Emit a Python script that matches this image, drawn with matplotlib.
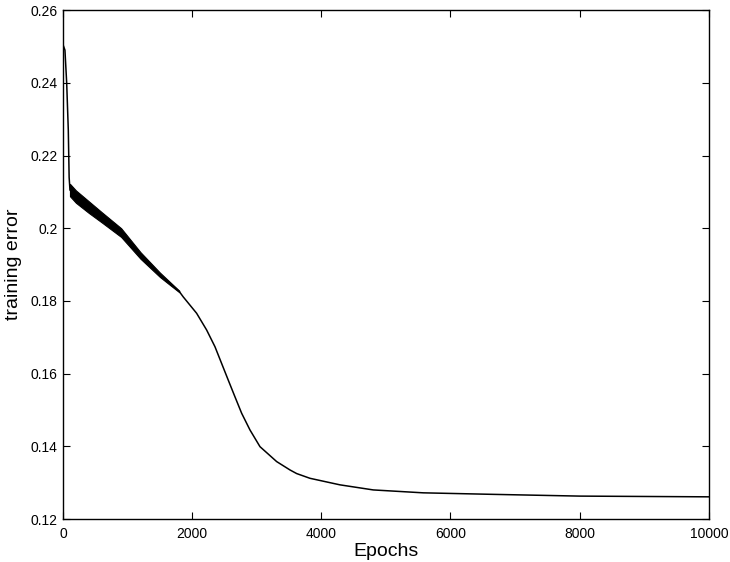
import matplotlib
matplotlib.use("Agg")
import matplotlib.pyplot as plt
import numpy as np

plt.rcParams['font.family'] = ['Liberation Sans', 'DejaVu Sans']

# early drop
drop_epochs = [0, 30, 57, 82, 95, 108]
drop_error = [0.2505, 0.2490, 0.2400, 0.2270, 0.2140, 0.2105]

# oscillating band: centre and half-width
band_epochs = [108, 200, 400, 600, 900, 1200, 1500, 1656, 1800]
band_centre = [0.2105, 0.2087, 0.2058, 0.2030, 0.1988, 0.1925, 0.1872, 0.1848, 0.1826]
band_half = [0.0017, 0.0017, 0.0016, 0.0014, 0.0012, 0.0009, 0.0006, 0.0004, 0.0002]

# smooth tail
tail_epochs = [1862, 2069, 2224, 2353, 2456, 2559, 2663, 2766, 2895, 3050, 3308,
               3514, 3618, 3824, 4133, 4288, 4804, 5578, 6610, 8003, 10000]
tail_error = [0.1811, 0.1766, 0.1720, 0.1674, 0.1628, 0.1582, 0.1536, 0.1491,
              0.1445, 0.1399, 0.1358, 0.1335, 0.1325, 0.1312, 0.1300, 0.1294,
              0.1280, 0.1272, 0.1268, 0.1263, 0.1261]

fig = plt.figure(figsize=(7.30, 5.62), dpi=100)
ax = fig.add_axes([0.0863, 0.0765, 0.8847, 0.9055])

band_centre = np.array(band_centre)
band_half = np.array(band_half)
ax.fill_between(band_epochs, band_centre - band_half, band_centre + band_half,
                color='black', linewidth=0.8)
ax.plot(drop_epochs + band_epochs + tail_epochs,
        drop_error + list(band_centre) + tail_error,
        color='black', linewidth=1.1)

ax.set_xlim(0, 10000)
ax.set_ylim(0.12, 0.26)
ax.set_xticks([0, 2000, 4000, 6000, 8000, 10000])
ax.set_yticks([0.12, 0.14, 0.16, 0.18, 0.2, 0.22, 0.24, 0.26])
ax.set_yticklabels(['0.12', '0.14', '0.16', '0.18', '0.2', '0.22', '0.24', '0.26'])

# matlab style box with inward ticks
ax.tick_params(axis='both', which='both', direction='in', length=5, width=0.8,
               top=True, right=True, labelsize=10)
ax.tick_params(axis='x', pad=6)
ax.tick_params(axis='y', pad=4)
for s in ax.spines.values():
    s.set_linewidth(1.0)

ax.set_xlabel('Epochs', fontsize=14, labelpad=1)
ax.set_ylabel('training error', fontsize=14, labelpad=6)

fig.savefig('out.png', dpi=100)
